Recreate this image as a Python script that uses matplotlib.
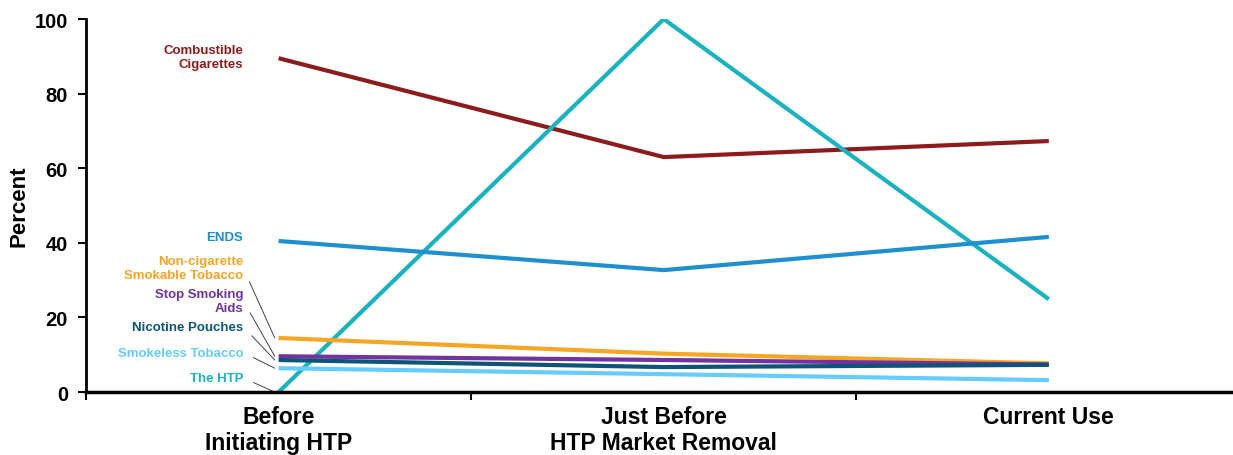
import numpy as np
import matplotlib.pyplot as plt

plt.rcParams['font.family'] = ['Liberation Sans', 'DejaVu Sans']
plt.rcParams['font.weight'] = 'bold'

# Data
categories = ['Before\nInitiating HTP', 'Just Before\nHTP Market Removal', 'Current Use']
combustible = [89.5, 63.0, 67.3]
the_htp = [0.0, 100.0, 24.9]
ends = [40.5, 32.7, 41.6]
non_cig = [14.5, 10.3, 7.7]
stop_smoking = [9.6, 8.6, 7.4]
nic_pouches = [8.6, 6.7, 7.3]
smokeless = [6.4, 4.8, 3.2]

series = [
    ('Combustible\nCigarettes', combustible, '#8E1B1B', 89.8, False),
    ('The HTP', the_htp, '#19B2BF', 3.8, True),
    ('ENDS', ends, '#1E8FCF', 41.6, False),
    ('Non-cigarette\nSmokable Tobacco', non_cig, '#F7A525', 33.3, True),
    ('Smokeless Tobacco', smokeless, '#66CCFF', 10.6, True),
    ('Stop Smoking\nAids', stop_smoking, '#7232A0', 24.5, True),
    ('Nicotine Pouches', nic_pouches, '#0E5479', 17.5, True),
]

fig = plt.figure(figsize=(12.33, 4.56), dpi=100)
ax = fig.add_axes([0.0698, 0.138, 0.937, 0.818])

x = np.arange(len(categories))
for name, vals, col, label_y, leader in series:
    ax.plot(x, vals, color=col, lw=3, solid_capstyle='butt', zorder=3)
    if leader:
        ax.annotate(name, xy=(-0.01, vals[0]), xytext=(-0.092, label_y),
                    ha='right', va='center', color=col, fontsize=9.5, fontweight='bold',
                    linespacing=1.25,
                    arrowprops=dict(arrowstyle='-', color='#444444', lw=0.7,
                                    relpos=(1, 0.5), shrinkA=6, shrinkB=0))
    else:
        ax.text(-0.092, label_y, name, ha='right', va='center', color=col,
                fontsize=9.5, fontweight='bold', linespacing=1.25)

ax.set_xlim(-0.5, 2.5)
ax.set_ylim(0, 100)
ax.set_yticks([0, 20, 40, 60, 80, 100])
ax.set_xticks([-0.5, 0.5, 1.5, 2.5])
ax.set_xticklabels([])
ax.set_xticks(x, minor=True)
ax.set_xticklabels(categories, minor=True, fontsize=16.5, fontweight='bold')
ax.tick_params(axis='x', which='minor', length=0, pad=9)
ax.tick_params(axis='x', which='major', length=6, width=1.5, direction='out')
ax.tick_params(axis='y', length=6, width=1.5, direction='out', labelsize=14.5, pad=7)
for lab in ax.get_yticklabels():
    lab.set_fontweight('bold')
ax.set_ylabel('Percent', fontsize=16, fontweight='bold', labelpad=4)

ax.spines['top'].set_visible(False)
ax.spines['right'].set_visible(False)
ax.spines['left'].set_linewidth(2)
ax.spines['bottom'].set_linewidth(2.5)
ax.spines['bottom'].set_zorder(5)
for lab in ax.get_xticklabels(minor=True):
    lab.set_linespacing(1.2)

fig.savefig('out.png', dpi=100)
